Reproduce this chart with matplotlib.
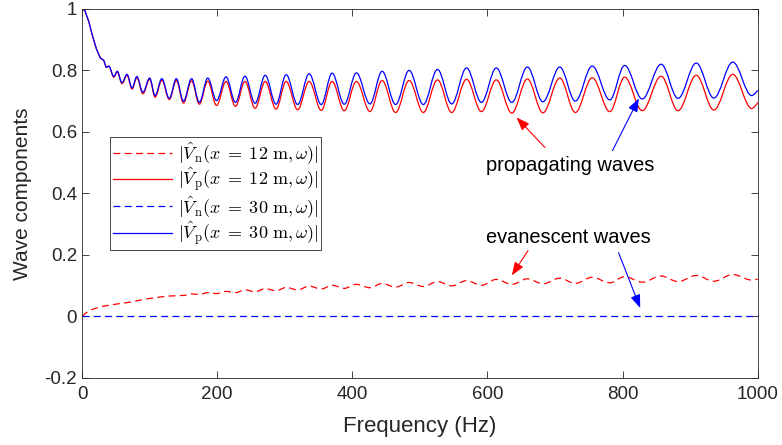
import matplotlib
matplotlib.use("Agg")
import matplotlib.pyplot as plt
from matplotlib.path import Path
from matplotlib.patches import PathPatch
from matplotlib.lines import Line2D
from matplotlib.ticker import FuncFormatter

plt.rcParams['font.family'] = ['Liberation Sans', 'DejaVu Sans']
plt.rcParams['mathtext.fontset'] = 'cm'

# low-frequency part (both solid curves overlap here)
head_f = [0, 4, 10, 15, 21, 27, 32, 35.5]
head_v = [1.0, 0.995, 0.958, 0.915, 0.871, 0.84, 0.833, 0.81]

# frequencies of the peaks / troughs of the oscillating part (Hz)
ext_f = [35.5, 39.5, 47, 52, 59, 66.5, 74, 81, 90, 100, 108, 118, 129, 139.5,
         150, 162, 173.5, 186, 199, 213, 227, 241, 256, 271, 287, 302, 319,
         336, 354, 370, 388, 406, 426, 444, 464, 484, 505, 526, 547, 569,
         591, 613, 636, 659, 682, 707, 730, 755, 781, 803, 829, 857, 882,
         909, 935, 963, 991, 1000]

# |Vp(x=30 m)| at those frequencies
vp30 = [0.81, 0.814, 0.78, 0.797, 0.76, 0.787, 0.743, 0.78, 0.729, 0.775,
        0.718, 0.773, 0.709, 0.773, 0.70, 0.773, 0.696, 0.775, 0.702, 0.779,
        0.696, 0.781, 0.693, 0.784, 0.690, 0.786, 0.689, 0.789, 0.689, 0.791,
        0.690, 0.792, 0.691, 0.797, 0.689, 0.80, 0.689, 0.803, 0.691, 0.808,
        0.696, 0.808, 0.696, 0.811, 0.698, 0.811, 0.70, 0.814, 0.704, 0.816,
        0.707, 0.82, 0.709, 0.824, 0.71, 0.827, 0.718, 0.735]

# |Vp(x=12 m)|
vp12 = [0.81, 0.813, 0.778, 0.795, 0.757, 0.784, 0.739, 0.776, 0.724, 0.771,
        0.713, 0.768, 0.705, 0.767, 0.694, 0.766, 0.69, 0.765, 0.686, 0.764,
        0.683, 0.764, 0.677, 0.764, 0.674, 0.764, 0.672, 0.764, 0.670, 0.764,
        0.669, 0.764, 0.666, 0.767, 0.663, 0.767, 0.663, 0.769, 0.663, 0.771,
        0.666, 0.769, 0.661, 0.772, 0.662, 0.775, 0.663, 0.776, 0.666, 0.778,
        0.669, 0.781, 0.669, 0.784, 0.671, 0.787, 0.676, 0.695]

# |Vn(x=12 m)|: smooth rise, then wiggles from 150 Hz on
vn12_head_f = [0, 5, 12, 17, 27, 36.5, 51, 71, 96, 120, 130]
vn12_head_v = [0.0, 0.01, 0.02, 0.024, 0.031, 0.035, 0.04, 0.046, 0.057, 0.064, 0.066]
vn12_f = ext_f[14:]
vn12 = [0.068, 0.073, 0.071, 0.077, 0.074, 0.081, 0.077, 0.086, 0.080, 0.090,
        0.083, 0.094, 0.086, 0.098, 0.089, 0.101, 0.091, 0.104, 0.093, 0.107,
        0.095, 0.110, 0.097, 0.113, 0.099, 0.116, 0.101, 0.120, 0.104, 0.122,
        0.106, 0.124, 0.107, 0.127, 0.109, 0.129, 0.111, 0.131, 0.113, 0.133,
        0.114, 0.136, 0.118, 0.121]

# |Vn(x=30 m)| is zero everywhere
vn30_f = [0, 1000]
vn30 = [0, 0]

legend_labels = [r'$|\hat{V}_\mathrm{n}(x\;=\;12\ \mathrm{m},\omega)|$',
                 r'$|\hat{V}_\mathrm{p}(x\;=\;12\ \mathrm{m},\omega)|$',
                 r'$|\hat{V}_\mathrm{n}(x\;=\;30\ \mathrm{m},\omega)|$',
                 r'$|\hat{V}_\mathrm{p}(x\;=\;30\ \mathrm{m},\omega)|$']


def wave_path(hf, hv, ef, ev):
    # straight pieces for the smooth head, then half-waves between extrema
    verts = [(hf[0], hv[0])]
    codes = [Path.MOVETO]
    for x, y in zip(hf[1:], hv[1:]):
        verts.append((x, y))
        codes.append(Path.LINETO)
    if ef[0] != hf[-1]:
        verts.append((ef[0], ev[0]))
        codes.append(Path.LINETO)
    for i in range(1, len(ef)):
        dx = ef[i] - ef[i - 1]
        k = 0.36 if i < len(ef) - 1 else 0.0
        verts += [(ef[i - 1] + 0.36 * dx, ev[i - 1]),
                  (ef[i] - k * dx, ev[i]),
                  (ef[i], ev[i])]
        codes += [Path.CURVE4] * 3
    return Path(verts, codes)


fig = plt.figure(figsize=(7.82, 4.45), dpi=100)
ax = fig.add_axes([0.105, 0.151, 0.864, 0.829])

lw = 0.9
dash = (0, (5.5, 3.5))
ax.add_patch(PathPatch(wave_path(vn12_head_f, vn12_head_v, vn12_f, vn12),
                       fill=False, edgecolor='r', lw=lw, linestyle=dash))
ax.add_patch(PathPatch(wave_path(head_f, head_v, ext_f, vp12),
                       fill=False, edgecolor='r', lw=lw))
ax.plot(vn30_f, vn30, color='b', lw=lw, linestyle=dash)
ax.add_patch(PathPatch(wave_path(head_f, head_v, ext_f, vp30),
                       fill=False, edgecolor='b', lw=lw))

ax.set_xlim(0, 1000)
ax.set_ylim(-0.2, 1)
ax.set_xticks([0, 200, 400, 600, 800, 1000])
ax.set_yticks([-0.2, 0, 0.2, 0.4, 0.6, 0.8, 1])
ax.yaxis.set_major_formatter(FuncFormatter(lambda v, p: '%g' % round(v, 2)))
ax.tick_params(direction='in', top=True, right=True, length=5, width=0.6,
               colors='0.15', labelsize=13.5, labelcolor='0.15')
ax.tick_params(axis='x', pad=6)
for s in ax.spines.values():
    s.set_linewidth(0.6)
    s.set_color('0.15')

ax.set_xlabel('Frequency (Hz)', fontsize=16, color='0.15', labelpad=9)
ax.set_ylabel('Wave components', fontsize=15, color='0.15', labelpad=9)

handles = [Line2D([], [], color='r', lw=lw, linestyle=dash),
           Line2D([], [], color='r', lw=lw),
           Line2D([], [], color='b', lw=lw, linestyle=dash),
           Line2D([], [], color='b', lw=lw)]
leg = ax.legend(handles, legend_labels, loc='upper left',
                bbox_to_anchor=(0.0414, 0.652), borderaxespad=0,
                fontsize=13, handlelength=3.3, handletextpad=0.3,
                labelspacing=0.0, borderpad=0.15,
                fancybox=False, framealpha=1, edgecolor='0.15')
leg.get_frame().set_linewidth(0.6)

arrow = dict(arrowstyle='-|>,head_length=0.8,head_width=0.3', lw=0.8,
             shrinkA=0, shrinkB=0)
ax.annotate('', xy=(643, 0.647), xytext=(685, 0.549),
            arrowprops=dict(arrow, color='r'))
ax.annotate('', xy=(824, 0.709), xytext=(785, 0.539),
            arrowprops=dict(arrow, color='b'))
ax.text(722, 0.49, 'propagating waves', fontsize=14.4, ha='center', va='center')

ax.annotate('', xy=(636, 0.133), xytext=(660, 0.214),
            arrowprops=dict(arrow, color='r'))
ax.annotate('', xy=(826, 0.027), xytext=(794, 0.207),
            arrowprops=dict(arrow, color='b'))
ax.text(719, 0.255, 'evanescent waves', fontsize=14.4, ha='center', va='center')

fig.savefig('out.png', dpi=100)
